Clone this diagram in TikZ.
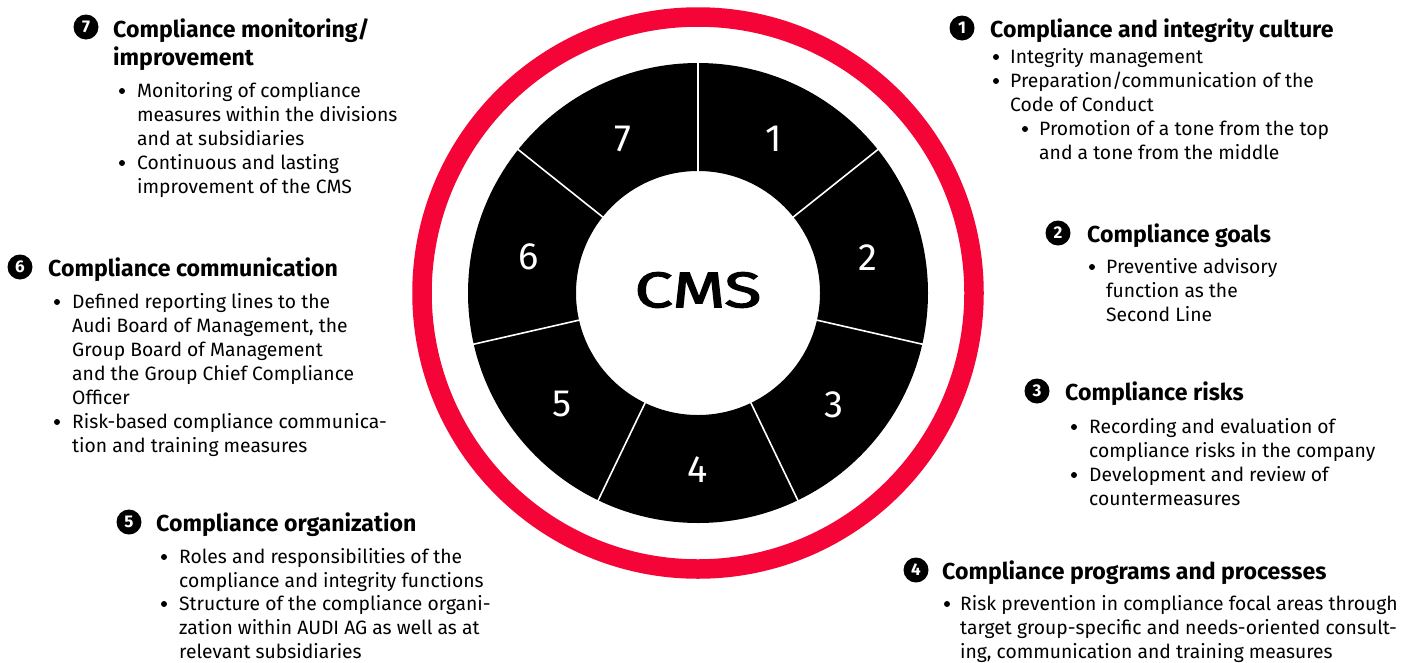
\documentclass[tikz,border=0pt]{standalone}
\usepackage{fontspec}
\setmainfont{Fira Sans}
\newfontfamily\cmsfont{Fira Sans}[FakeBold=2.2]
\usetikzlibrary{calc}
\definecolor{audired}{HTML}{F50537}
\begin{document}
\begin{tikzpicture}[x=1pt,y=-1pt,
  hd/.style={anchor=base west, inner sep=0pt, font=\bfseries\fontsize{23.1}{28}\selectfont},
  hdm/.style={anchor=north west, inner sep=0pt, align=left, font=\bfseries\fontsize{23.1}{28}\selectfont},
  bd/.style={anchor=north west, inner sep=0pt, align=left, font=\fontsize{19.3}{24}\selectfont},
  cn/.style={circle, fill=black, minimum size=25pt, inner sep=0pt, text=white, font=\bfseries\fontsize{17}{17}\selectfont},
  seg/.style={text=white, inner sep=0pt, font=\fontsize{38}{38}\selectfont},
  dot/.style={fill=black}
]
\useasboundingbox[fill=white] (0,0) rectangle (1409,662);
\coordinate (c) at (698,293);
% ring and wheel
\draw[audired, line width=19.5pt] (c) circle[radius=276pt];
\fill[black, even odd rule] (c) circle[radius=230pt] (c) circle[radius=122pt];
\foreach \a in {90,38.571,-12.857,-64.286,-115.714,-167.143,141.429}
  \draw[white, line width=1.6pt] ($(c)+(\a:121pt)$) -- ($(c)+(\a:231pt)$);
\foreach \n/\a in {1/64.286,2/12.857,3/-38.571,4/-90,5/-141.429,6/167.143,7/115.714}
  \node[seg] (s\n) at ($(c)+(\a:174pt)+(0,3)$) {\n};
\node[inner sep=0pt, font=\cmsfont\fontsize{50}{50}\selectfont] (cms) at (698,290) {\scalebox{1.36}[1]{CMS}};

% block 1
\node[hd] (h1) at (990,37) {Compliance and integrity culture};
\node[cn] (n1) at (962,28) {1};
\fill[dot] (996,57) circle[radius=3pt] (996,81) circle[radius=3pt] (1025,129) circle[radius=3pt];
\node[bd] (t1a) at (1010,48) {\rule{0pt}{15pt}Integrity management};
\node[bd] (t1b) at (1010,72) {\rule{0pt}{15pt}Preparation/communication of the\\Code of Conduct};
\node[bd] (t1c) at (1039,120) {\rule{0pt}{15pt}Promotion of a tone from the top\\and a tone from the middle};

% block 2
\node[hd] (h2) at (1087,242) {Compliance goals};
\node[cn] (n2) at (1058,233) {2};
\fill[dot] (1092,267) circle[radius=3pt];
\node[bd] (t2a) at (1106,258) {\rule{0pt}{15pt}Preventive advisory\\function as the\\Second Line};

% block 3
\node[hd] (h3) at (1065,400) {Compliance risks};
\node[cn] (n3) at (1037,391) {3};
\fill[dot] (1074,427) circle[radius=3pt] (1074,475) circle[radius=3pt];
\node[bd] (t3a) at (1089,418) {\rule{0pt}{15pt}Recording and evaluation of\\compliance risks in the company};
\node[bd] (t3b) at (1089,466) {\rule{0pt}{15pt}Development and review of\\countermeasures};

% block 4
\node[hd] (h4) at (942,579) {Compliance programs and processes};
\node[cn] (n4) at (916,570) {4};
\fill[dot] (947,604) circle[radius=3pt];
\node[bd] (t4a) at (960,595) {\rule{0pt}{15pt}Risk prevention in compliance focal areas through\\target group-specific and needs-oriented consult-\\ing, communication and training measures};

% block 5
\node[hd] (h5) at (156,531) {Compliance organization};
\node[cn] (n5) at (129,522) {5};
\fill[dot] (164,557) circle[radius=3pt] (164,604) circle[radius=3pt];
\node[bd] (t5a) at (179,548) {\rule{0pt}{15pt}Roles and responsibilities of the\\compliance and integrity functions};
\node[bd] (t5b) at (179,595) {\rule{0pt}{15pt}Structure of the compliance organi-\\zation within AUDI AG as well as at\\relevant subsidiaries};

% block 6
\node[hd] (h6) at (48,276) {Compliance communication};
\node[cn] (n6) at (20,267) {6};
\fill[dot] (57,302) circle[radius=3pt] (57,422) circle[radius=3pt];
\node[bd] (t6a) at (72,293) {\rule{0pt}{15pt}Defined reporting lines to the\\Audi Board of Management, the\\Group Board of Management\\and the Group Chief Compliance\\Officer};
\node[bd] (t6b) at (72,413) {\rule{0pt}{15pt}Risk-based compliance communica-\\tion and training measures};

% block 7
\node[hdm] (h7) at (113,18) {\rule{0pt}{18pt}Compliance monitoring/\\improvement};
\node[cn] (n7) at (86,27) {7};
\fill[dot] (122,91) circle[radius=3pt] (122,163) circle[radius=3pt];
\node[bd] (t7a) at (137,82) {\rule{0pt}{15pt}Monitoring of compliance\\measures within the divisions\\and at subsidiaries};
\node[bd] (t7b) at (137,154) {\rule{0pt}{15pt}Continuous and lasting\\improvement of the CMS};
\end{tikzpicture}
\end{document}
